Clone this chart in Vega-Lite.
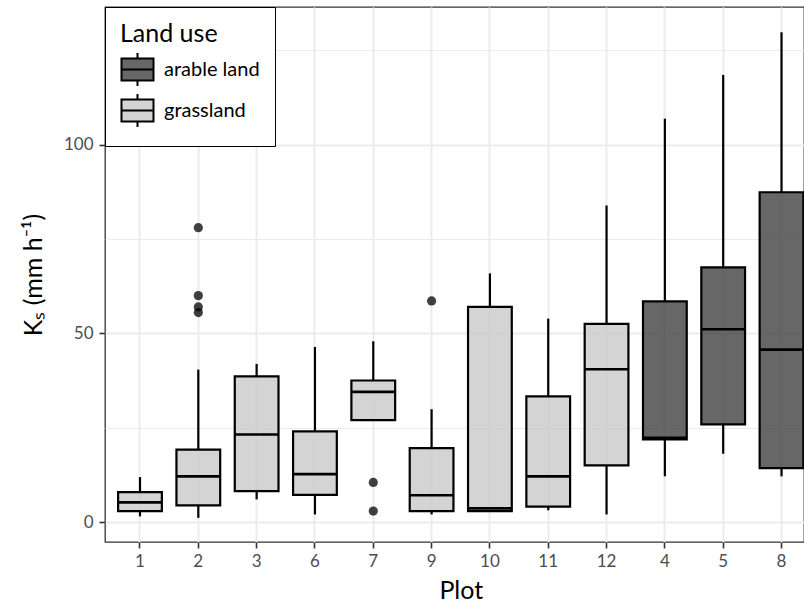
{
  "$schema": "https://vega.github.io/schema/vega-lite/v6.json",
  "width": 699,
  "height": 535,
  "autosize": {"type": "none"},
  "padding": {"left": 105, "top": 7, "right": 0, "bottom": 66},
  "background": "white",
  "config": {
    "font": "Lato",
    "view": {"stroke": "#333333", "strokeWidth": 1.3},
    "axis": {
      "domain": false,
      "tickColor": "#333333",
      "tickWidth": 1.6,
      "tickSize": 6,
      "labelColor": "#4D4D4D",
      "labelFont": "Lato",
      "labelFontSize": 17,
      "titleFont": "Lato",
      "titleFontSize": 25,
      "titleFontWeight": "normal",
      "titleColor": "black",
      "gridColor": "#EBEBEB"
    }
  },
  "datasets": {
    "boxes": [
      {"plot": "1", "landuse": "grassland", "lower": 1.5, "q1": 2.9, "median": 5.2, "q3": 7.9, "upper": 11.9},
      {"plot": "2", "landuse": "grassland", "lower": 1.1, "q1": 4.4, "median": 12.1, "q3": 19.2, "upper": 40.4},
      {"plot": "3", "landuse": "grassland", "lower": 6.0, "q1": 8.2, "median": 23.2, "q3": 38.6, "upper": 41.9},
      {"plot": "6", "landuse": "grassland", "lower": 2.0, "q1": 7.2, "median": 12.7, "q3": 24.0, "upper": 46.4},
      {"plot": "7", "landuse": "grassland", "lower": 27.0, "q1": 27.0, "median": 34.5, "q3": 37.5, "upper": 47.9},
      {"plot": "9", "landuse": "grassland", "lower": 2.0, "q1": 2.9, "median": 7.1, "q3": 19.6, "upper": 29.9},
      {"plot": "10", "landuse": "grassland", "lower": 2.9, "q1": 2.9, "median": 3.6, "q3": 57.0, "upper": 65.9},
      {"plot": "11", "landuse": "grassland", "lower": 3.1, "q1": 4.1, "median": 12.1, "q3": 33.3, "upper": 53.9},
      {"plot": "12", "landuse": "grassland", "lower": 2.0, "q1": 15.0, "median": 40.5, "q3": 52.5, "upper": 83.9},
      {"plot": "4", "landuse": "arable land", "lower": 12.1, "q1": 21.9, "median": 22.3, "q3": 58.5, "upper": 106.9},
      {"plot": "5", "landuse": "arable land", "lower": 18.1, "q1": 25.9, "median": 51.1, "q3": 67.5, "upper": 118.5},
      {"plot": "8", "landuse": "arable land", "lower": 12.1, "q1": 14.3, "median": 45.7, "q3": 87.4, "upper": 129.8}
    ],
    "outliers": [
      {"plot": "2", "value": 78.0},
      {"plot": "2", "value": 60.0},
      {"plot": "2", "value": 57.0},
      {"plot": "2", "value": 55.5},
      {"plot": "7", "value": 10.5},
      {"plot": "7", "value": 2.9},
      {"plot": "9", "value": 58.6}
    ]
  },
  "encoding": {
    "x": {
      "field": "plot",
      "type": "nominal",
      "title": "Plot",
      "scale": {
        "domain": ["1", "2", "3", "6", "7", "9", "10", "11", "12", "4", "5", "8"],
        "range": [0, 711.5],
        "paddingInner": 0,
        "paddingOuter": 0.1
      },
      "axis": {
        "labelAngle": 0,
        "bandPosition": 0.5,
        "grid": true,
        "gridWidth": 2,
        "labelPadding": 5,
        "titlePadding": 9
      }
    }
  },
  "layer": [
    {
      "data": {"name": "boxes"},
      "mark": {"type": "rule", "color": "black", "strokeWidth": 2.2},
      "encoding": {
        "y": {
          "field": "lower",
          "type": "quantitative",
          "title": "Kₛ (mm h⁻¹)",
          "scale": {"domain": [-5.3, 136.5], "nice": false, "zero": false},
          "axis": {
            "values": [0, 25, 50, 75, 100, 125],
            "labelExpr": "datum.value % 50 === 0 ? datum.label : ''",
            "tickOpacity": {"expr": "datum.value % 50 === 0 ? 1 : 0"},
            "gridWidth": {"expr": "datum.value % 50 === 0 ? 2 : 1.2"},
            "grid": true,
            "labelPadding": 6,
            "titlePadding": 17
          }
        },
        "y2": {"field": "q1"}
      }
    },
    {
      "data": {"name": "boxes"},
      "mark": {"type": "rule", "color": "black", "strokeWidth": 2.2},
      "encoding": {
        "y": {"field": "q3", "type": "quantitative"},
        "y2": {"field": "upper"}
      }
    },
    {
      "data": {"name": "boxes"},
      "mark": {"type": "bar", "width": {"band": 0.75}, "stroke": "black", "strokeWidth": 2.2, "fillOpacity": 0.8},
      "encoding": {
        "y": {"field": "q1", "type": "quantitative"},
        "y2": {"field": "q3"},
        "fill": {
          "field": "landuse",
          "type": "nominal",
          "title": "Land use",
          "scale": {"domain": ["arable land", "grassland"], "range": ["#414141", "#C9C9C9"]},
          "legend": {
            "orient": "none",
            "legendX": 0,
            "legendY": 0,
            "padding": 15,
            "fillColor": "white",
            "strokeColor": "black",
            "titleFont": "Lato",
            "titleFontSize": 25,
            "titleFontWeight": "normal",
            "titleColor": "black",
            "titlePadding": 5,
            "labelFont": "Lato",
            "labelFontSize": 20,
            "labelColor": "black",
            "labelOffset": 9,
            "rowPadding": 0,
            "symbolType": "M-0.97,-0.67H0.97V0.67H-0.97Z M-0.97,0H0.97 M0,-0.67V-1 M0,0.67V1",
            "symbolSize": 1089,
            "symbolStrokeColor": "black",
            "symbolStrokeWidth": 2,
            "encode": {
              "symbols": {"update": {"fillOpacity": {"value": 0.8}, "strokeOpacity": {"value": 1}, "opacity": {"value": 1}}}
            }
          }
        }
      }
    },
    {
      "data": {"name": "boxes"},
      "mark": {"type": "tick", "color": "black", "opacity": 1, "size": 43.7, "thickness": 2.6, "orient": "horizontal"},
      "encoding": {
        "y": {"field": "median", "type": "quantitative"}
      }
    },
    {
      "data": {"name": "outliers"},
      "mark": {"type": "circle", "size": 85, "color": "black", "opacity": 0.75},
      "encoding": {
        "y": {"field": "value", "type": "quantitative"}
      }
    }
  ]
}
